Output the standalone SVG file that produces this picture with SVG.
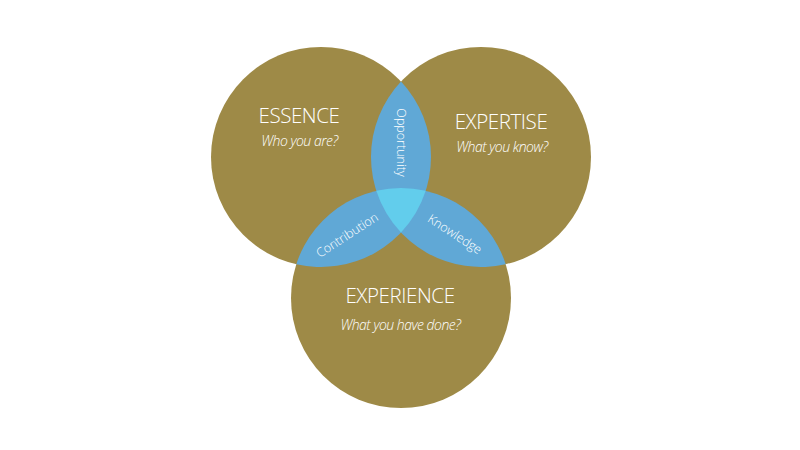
<svg xmlns="http://www.w3.org/2000/svg" width="800" height="450" viewBox="0 0 800 450">
  <style>
    .circle { fill: #9E8A47; }
    .lens { fill: #60A8D6; }
    .core { fill: #62CDEC; }
    .title { font-family: "Open Sans", "Liberation Sans", sans-serif; font-weight: 300; font-size: 20.5px; letter-spacing: -0.4px; fill: #FFFFFF; text-anchor: middle; }
    .sub { font-family: "Open Sans", "Liberation Sans", sans-serif; font-weight: 300; font-style: italic; font-size: 14px; letter-spacing: -0.5px; fill: #FFFFFF; text-anchor: middle; }
    .lbl { font-family: "Open Sans", "Liberation Sans", sans-serif; font-weight: 300; font-size: 12.5px; fill: #FFFFFF; text-anchor: middle; }
  </style>
  <rect width="800" height="450" fill="#FFFFFF"/>
  <g id="essence">
    <circle class="circle" cx="321" cy="157" r="110"/>
  </g>
  <g id="expertise">
    <circle class="circle" cx="481" cy="157" r="110"/>
  </g>
  <g id="experience">
    <circle class="circle" cx="401" cy="298" r="110"/>
  </g>
  <g id="opportunity">
    <path class="lens" d="M401,81.5 A110,110 0 0 1 401,232.5 A110,110 0 0 1 401,81.5 Z"/>
  </g>
  <g id="contribution">
    <path class="lens" d="M425.7,190.8 A110,110 0 0 1 296.3,264.2 A110,110 0 0 1 425.7,190.8 Z"/>
  </g>
  <g id="knowledge">
    <path class="lens" d="M505.7,264.2 A110,110 0 0 1 376.3,190.8 A110,110 0 0 1 505.7,264.2 Z"/>
  </g>
  <g id="core">
    <path class="core" d="M376.3,190.8 A110,110 0 0 1 425.7,190.8 A110,110 0 0 1 401,232.5 A110,110 0 0 1 376.3,190.8 Z"/>
  </g>
  <g id="labels">
    <text class="title" x="299" y="123">ESSENCE</text>
    <text class="sub" x="299.5" y="146">Who you are?</text>
    <text class="title" x="501" y="129">EXPERTISE</text>
    <text class="sub" x="502" y="152">What you know?</text>
    <text class="title" x="400" y="303">EXPERIENCE</text>
    <text class="sub" x="400.5" y="330">What you have done?</text>
    <text class="lbl" transform="translate(401,142.5) rotate(90)" x="0" y="4.5">Opportunity</text>
    <text class="lbl" transform="translate(347,235) rotate(-33)" x="0" y="4.5">Contribution</text>
    <text class="lbl" transform="translate(455,234) rotate(33)" x="0" y="4.5">Knowledge</text>
  </g>
  <g id="connectors"></g>
</svg>
